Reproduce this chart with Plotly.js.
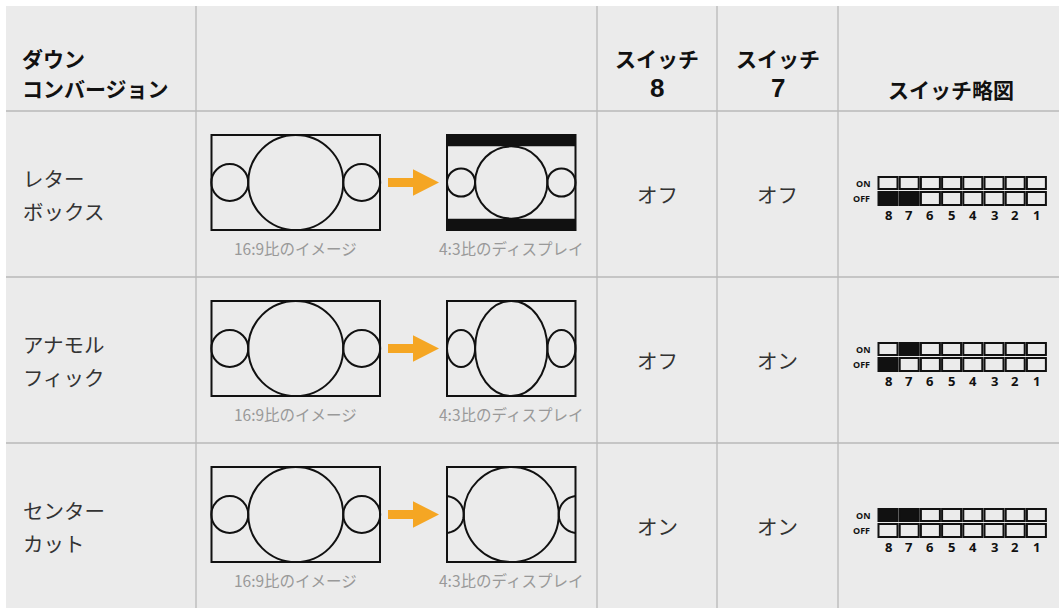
<!DOCTYPE html>
<html><head><meta charset="utf-8">
<script src="https://cdn.plot.ly/plotly-3.0.1.min.js"></script>
<style>html,body{margin:0;padding:0;background:#fff;overflow:hidden}#chart{width:1059px;height:608px}</style>
</head><body><div id="chart"></div>
<script>
// ---- data ----
const headers = ['ダウン<br>コンバージョン', '', 'スイッチ<br>8', 'スイッチ<br>7', 'スイッチ略図'];
const conversions = ['レター<br>ボックス', 'アナモル<br>フィック', 'センター<br>カット'];
const modes = ['letterbox', 'anamorphic', 'centercut'];
const switch8 = ['オフ', 'オフ', 'オン'];
const switch7 = ['オフ', 'オン', 'オン'];
const switchNumbers = [8, 7, 6, 5, 4, 3, 2, 1];
const onOffLabels = ['ON', 'OFF'];
const sourceCaption = '16:9比のイメージ';
const displayCaption = '4:3比のディスプレイ';

// ---- layout constants ----
const W = 1059, H = 608;
const colEdges = [6, 196, 597, 717, 838, W];
const rowEdges = [6, 111, 277, 443, 609];
const BG = '#ebebeb', GRID = '#b8b8b8', INK = '#111111', TXT = '#333333';
const ORANGE = '#f5a623', CAP = '#999999';
const JP = 'Noto Sans CJK JP, Noto Sans, sans-serif';
const LAT = 'Liberation Sans, Arial, sans-serif';

const shapes = [];
const ann = [];

shapes.push({type:'rect', xref:'x', yref:'y', x0:colEdges[0], x1:W, y0:rowEdges[0], y1:H, fillcolor:BG, line:{width:0}, layer:'below'});
colEdges.slice(1, -1).forEach(x => shapes.push({type:'line', xref:'x', yref:'y', x0:x, x1:x, y0:rowEdges[0], y1:H, line:{color:GRID, width:1.3}}));
rowEdges.slice(1, -1).forEach(y => shapes.push({type:'line', xref:'x', yref:'y', x0:colEdges[0], x1:W, y0:y, y1:y, line:{color:GRID, width:1.3}}));

function colCenter(i){ return (colEdges[i] + colEdges[i+1]) / 2; }

function text(t, x, y, size, opts){
  opts = opts || {};
  ann.push({text:t, x:x, y:y, xref:'x', yref:'y', showarrow:false,
    xanchor:opts.xanchor || 'center', yanchor:'middle', borderpad:0,
    font:{family:opts.family || JP, size:size, color:opts.color || TXT, weight:opts.weight || 400}});
}

// headers
headers.forEach((h, i) => {
  if (!h) return;
  const lines = h.split('<br>');
  const left = i === 0;
  const ys = lines.length === 2 ? [58, 88] : [89];
  lines.forEach((ln, k) => {
    const isNum = /^[0-9]+$/.test(ln);
    text(isNum ? '<b>' + ln + '</b>' : ln, left ? colEdges[0] + 15 : colCenter(i) + (i === 4 ? 2 : 0), ys[k], isNum ? 26 : 21,
      {xanchor: left ? 'left' : 'center', color:'#111', weight:700, family: isNum ? LAT : JP});
  });
});

function ellipse(cx, cy, rx, ry){
  shapes.push({type:'circle', xref:'x', yref:'y', x0:cx-rx, x1:cx+rx, y0:cy-ry, y1:cy+ry,
    line:{color:INK, width:2}, fillcolor:'rgba(0,0,0,0)'});
}
function rect(x0, y0, x1, y1){
  shapes.push({type:'rect', xref:'x', yref:'y', x0:x0, x1:x1, y0:y0, y1:y1,
    line:{color:INK, width:2}, fillcolor:'rgba(0,0,0,0)'});
}
// 16:9 picture: big circle (diameter = height) with a small circle either side
function picture(cx, cy, ux, uy, clip){
  const R = 4.5, r = 1.75, off = 6.25;
  ellipse(cx, cy, R*ux, R*uy);
  [-1, 1].forEach(s => {
    const sx = cx + s*off*ux;
    if (clip && (sx - r*ux < clip[0] || sx + r*ux > clip[1])) {
      const edge = s < 0 ? clip[0] : clip[1];
      const a = Math.acos(Math.max(-1, Math.min(1, (edge - sx) / (r*ux))));
      const N = 24;
      let d = '';
      for (let k = 0; k <= N; k++){
        const th = s < 0 ? (-a + 2*a*k/N) : (a + (2*Math.PI - 2*a)*k/N);
        const x = sx + r*ux*Math.cos(th), y = cy + r*uy*Math.sin(th);
        d += (k ? 'L' : 'M') + x.toFixed(2) + ',' + y.toFixed(2) + ' ';
      }
      shapes.push({type:'path', xref:'x', yref:'y', path:d.trim(), line:{color:INK, width:2}});
    } else {
      ellipse(sx, cy, r*ux, r*uy);
    }
  });
}

const srcX0 = 211.5, srcX1 = 380, dspX0 = 447, dspX1 = 575.5, imgTop = 24, imgH = 95;
const boxX0 = 878.5, boxPitch = 21.2, boxW = 19;

conversions.forEach((label, i) => {
  const top = rowEdges[i+1];
  const mid = top + 83;
  const lines = label.split('<br>');
  text(lines[0], colEdges[0] + 16, mid - 16, 20.5, {xanchor:'left', weight:400});
  text(lines[1], colEdges[0] + 16, mid + 17, 20.5, {xanchor:'left', weight:400});

  const y0 = top + imgTop, y1 = y0 + imgH, cy = (y0 + y1) / 2;
  const u = imgH / 9;
  rect(srcX0, y0, srcX1, y1);
  picture((srcX0 + srcX1) / 2, cy, u, u);
  const ax0 = 388, ax1 = 413, ax2 = 439;
  shapes.push({type:'path', xref:'x', yref:'y', fillcolor:ORANGE, line:{width:0},
    path:`M${ax0},${cy-4.4} L${ax1},${cy-4.4} L${ax1},${cy-13.3} L${ax2},${cy} L${ax1},${cy+13.3} L${ax1},${cy+4.4} L${ax0},${cy+4.4} Z`});
  const dcx = (dspX0 + dspX1) / 2;
  const mode = modes[i];
  if (mode === 'letterbox'){
    const ux = (dspX1 - dspX0) / 16;
    const bar = (imgH - ux * 9) / 2;
    shapes.push({type:'rect', xref:'x', yref:'y', x0:dspX0, x1:dspX1, y0:y0, y1:y0+bar, fillcolor:INK, line:{width:0}});
    shapes.push({type:'rect', xref:'x', yref:'y', x0:dspX0, x1:dspX1, y0:y1-bar, y1:y1, fillcolor:INK, line:{width:0}});
    rect(dspX0, y0, dspX1, y1);
    picture(dcx, cy, ux, ux);
  } else if (mode === 'anamorphic'){
    rect(dspX0, y0, dspX1, y1);
    picture(dcx, cy, (dspX1 - dspX0) / 16, u);
  } else {
    rect(dspX0, y0, dspX1, y1);
    picture(dcx, cy, u, u, [dspX0, dspX1]);
  }
  text(sourceCaption, (srcX0 + srcX1) / 2, top + 137, 15.5, {color:CAP, weight:400});
  text(displayCaption, dcx, top + 137, 15.5, {color:CAP, weight:400});

  text(switch8[i], colCenter(2), mid, 20.5);
  text(switch7[i], colCenter(3), mid, 20.5);

  // switch diagram: only switches 8 and 7 show a position
  const onY = [mid - 17, mid - 5], offY = [mid - 2, mid + 11];
  text('<b>' + onOffLabels[0] + '</b>', 871, mid - 11, 9, {xanchor:'right', color:'#111', weight:700, family:'Open Sans, Noto Sans, sans-serif'});
  text('<b>' + onOffLabels[1] + '</b>', 871, mid + 4.5, 9, {xanchor:'right', color:'#111', weight:700, family:'Open Sans, Noto Sans, sans-serif'});
  switchNumbers.forEach((n, k) => {
    const bx0 = boxX0 + k * boxPitch, bx1 = bx0 + boxW;
    const val = n === 8 ? switch8[i] : n === 7 ? switch7[i] : null;
    const onFill = val === 'オン' ? INK : 'rgba(0,0,0,0)';
    const offFill = val === 'オフ' ? INK : 'rgba(0,0,0,0)';
    shapes.push({type:'rect', xref:'x', yref:'y', x0:bx0, x1:bx1, y0:onY[0], y1:onY[1], fillcolor:onFill, line:{color:INK, width:2}});
    shapes.push({type:'rect', xref:'x', yref:'y', x0:bx0, x1:bx1, y0:offY[0], y1:offY[1], fillcolor:offFill, line:{color:INK, width:2}});
    text('<b>' + n + '</b>', (bx0 + bx1) / 2, mid + 20.5, 13, {color:'#111', weight:700, family:'Open Sans, Noto Sans, sans-serif'});
  });
});

const layout = {
  width: W, height: H, autosize: false,
  margin: {l:0, r:0, t:0, b:0, pad:0},
  paper_bgcolor: '#ffffff', plot_bgcolor: 'rgba(0,0,0,0)',
  showlegend: false,
  xaxis: {range:[0, W], visible:false, fixedrange:true},
  yaxis: {range:[H, 0], visible:false, fixedrange:true},
  shapes: shapes, annotations: ann
};
Plotly.newPlot('chart', [{x:[0], y:[0], mode:'markers', marker:{opacity:0}, hoverinfo:'skip'}], layout, {displayModeBar:false, staticPlot:true});
</script></body></html>
